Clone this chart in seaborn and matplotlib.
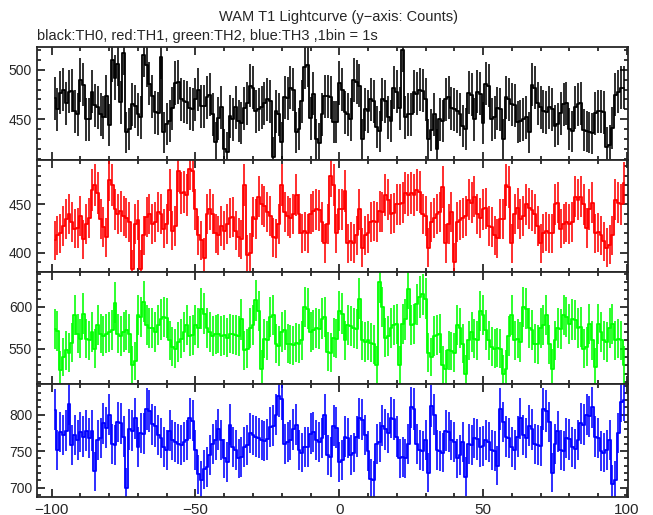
"""
WAM T1 lightcurve, four energy bands stacked (TH0..TH3), 1 s bins.
"""

import numpy as np
import pandas as pd
import matplotlib
matplotlib.use("Agg")
import matplotlib.pyplot as plt
from matplotlib.ticker import MultipleLocator
import seaborn as sns

# bin centres, seconds
TIME = np.arange(-99, 100)

TH0 = [
    471, 460, 477, 480, 466, 478, 479, 458, 455, 490,
    485, 450, 450, 478, 464, 462, 455, 452, 473, 444,
    510, 492, 506, 467, 517, 437, 440, 465, 463, 455,
    452, 515, 505, 486, 473, 457, 456, 513, 437, 445,
    448, 461, 487, 488, 470, 468, 467, 461, 460, 470,
    480, 463, 463, 472, 475, 455, 427, 451,
    462, 420, 417, 453, 450, 462, 448, 446, 461, 466,
    484, 482, 458, 460, 462, 466, 470, 468, 412, 458,
    455, 427, 472, 471, 482, 480, 437, 440, 468, 503,
    505, 451, 476, 430, 426, 455, 473, 473, 472, 447,
    447, 487, 480, 457, 455, 450, 490, 488, 484, 430,
    460, 458, 470, 468, 442, 438, 470, 468, 452, 448,
    482, 478, 461, 520, 452, 455, 455, 478, 476, 480,
    479, 470,
    430, 439, 455, 420, 450, 448, 470, 472, 461, 460,
    458, 455, 443, 440, 477, 475, 450, 478, 476, 446,
    486, 484, 450, 452, 461, 460, 430, 472, 470, 465,
    464, 447, 448, 450, 452, 437, 485, 482, 466, 462,
    458, 457, 462, 460, 443, 445, 456, 465, 466, 440,
    438, 462, 465, 466, 439, 438, 437, 436, 456, 458,
    458, 457, 422, 424, 441, 475, 478, 482, 482,
]

TH1 = [
    413, 418, 420, 428, 435, 440, 432, 425, 426, 438,
    414, 430, 436, 465, 470, 462, 435, 427, 416, 475,
    470, 445, 440, 443, 438, 436, 432, 383, 430, 434,
    383, 418, 437, 440, 430, 432, 442, 440, 425, 430,
    465, 423, 428, 485, 462, 463, 460, 487, 485, 445,
    418, 413, 395, 440, 445, 440, 420, 418,
    428, 423, 430, 436, 437, 423, 416, 414, 470, 398,
    400, 437, 435, 458, 450, 448, 442, 438, 416, 415,
    430, 470, 442, 438, 436, 440, 460, 440, 420, 422,
    420, 440, 443, 445, 444, 432, 410, 430, 480, 470,
    420, 445, 445, 464, 410, 412, 410, 418, 445, 405,
    418, 420, 432, 433, 432, 443, 442, 460, 455, 440,
    441, 450, 450, 452, 462, 460, 462, 460, 465, 463,
    440, 438,
    405, 432, 436, 440, 442, 468, 410, 430, 442, 390,
    432, 434, 436, 438, 455, 452, 458, 440, 436, 445,
    446, 428, 427, 418, 415, 435, 435, 470, 468, 410,
    440, 446, 435, 438, 450, 446, 444, 440, 428, 410,
    420, 422, 420, 420, 450, 452, 425, 430, 432, 430,
    432, 458, 455, 458, 450, 426, 445, 452, 420, 421,
    418, 412, 405, 408, 418, 455, 452, 450, 472,
]

TH2 = [
    573, 571, 524, 540, 548, 545, 557, 590, 568, 562,
    592, 562, 560, 570, 550, 578, 568, 565, 568, 570,
    572, 605, 568, 565, 570, 572, 568, 530, 535, 590,
    588, 606, 578, 575, 575, 570, 578, 585, 588, 587,
    560, 552, 550, 558, 562, 570, 578, 565, 566, 578,
    575, 598, 592, 575, 570, 565, 567, 568,
    565, 566, 563, 568, 567, 566, 565, 585, 548, 550,
    575, 578, 608, 595, 525, 562, 560, 588, 590, 556,
    553, 570, 572, 556, 555, 554, 557, 556, 560, 600,
    598, 570, 572, 575, 574, 586, 588, 546, 545, 563,
    562, 595, 592, 560, 578, 577, 575, 573, 610, 560,
    558, 560, 557, 555, 530, 630, 600, 563, 565, 575,
    578, 580, 530, 580, 585, 622, 578, 580, 603, 612,
    615, 610,
    545, 540, 565, 566, 568, 530, 525, 548, 547, 545,
    578, 575, 556, 520, 560, 570, 562, 560, 595, 590,
    572, 560, 552, 550, 551, 550, 520, 525, 565, 590,
    560, 562, 558, 600, 598, 575, 572, 556, 555, 575,
    578, 590, 555, 526, 560, 575, 574, 590, 588, 580,
    585, 584, 575, 576, 550, 552, 580, 560, 528, 580,
    570, 560, 558, 575, 580, 560, 562, 560, 530,
]

TH3 = [
    807, 752, 776, 772, 778, 815, 758, 772, 765, 776,
    770, 778, 768, 778, 722, 765, 768, 788, 782, 800,
    760, 758, 790, 788, 770, 700, 780, 778, 795, 756,
    775, 774, 808, 805, 787, 784, 772, 768, 755, 752,
    778, 765, 762, 760, 758, 762, 765, 795, 792, 752,
    718, 710, 725, 728, 745, 760, 765, 780,
    765, 740, 735, 786, 755, 752, 740, 742, 755, 758,
    775, 772, 770, 768, 765, 764, 766, 783, 785, 800,
    825, 822, 760, 762, 765, 780, 786, 752, 748, 755,
    756, 774, 776, 765, 762, 768, 800, 745, 742, 785,
    782, 735, 738, 770, 768, 745, 748, 770, 795, 793,
    772, 750, 712, 710, 760, 762, 785, 780, 775, 796,
    794, 770, 740, 742, 740, 760, 810, 808, 760, 752,
    750, 765,
    720, 812, 800, 752, 750, 748, 778, 776, 765, 762,
    740, 745, 762, 715, 760, 758, 768, 766, 755, 757,
    765, 763, 752, 750, 730, 808, 790, 770, 768, 755,
    752, 770, 795, 772, 768, 785, 780, 760, 758, 757,
    808, 805, 790, 720, 760, 777, 752, 750, 768, 766,
    755, 753, 765, 788, 786, 800, 798, 810, 770, 768,
    750, 748, 752, 765, 705, 710, 775, 818, 820,
]

BANDS  = [TH0, TH1, TH2, TH3]
COLORS = ["black", "#ff0000", "#00ff00", "#0000ff"]
YLIMS  = [(409.7, 522.7), (380.0, 496.6), (506.8, 642.0), (687.0, 841.5)]
XLIM   = (-105.1, 100.4)
XTICKS = [-100, -50, 0, 50, 100]


def draw_band(ax, counts, color, ylim):
    counts = np.asarray(counts, dtype=float)
    err    = np.sqrt(counts)          # poisson errors
    df     = pd.DataFrame({"time": TIME, "counts": counts})

    ax.vlines(df["time"], counts - err, counts + err,
              color=color, linewidth=1.15)
    sns.lineplot(data=df, x="time", y="counts", ax=ax, color=color,
                 drawstyle="steps-mid", linewidth=1.3, legend=False)

    ax.set_xlim(*XLIM)
    ax.set_ylim(*ylim)
    ax.set_xlabel("")
    ax.set_ylabel("")
    ax.xaxis.set_major_locator(MultipleLocator(50))
    ax.xaxis.set_minor_locator(MultipleLocator(10))
    ax.yaxis.set_major_locator(MultipleLocator(50))
    ax.yaxis.set_minor_locator(MultipleLocator(10))
    ax.tick_params(which="both", direction="in", top=True, right=True,
                   width=1.3, labelsize=10)
    ax.tick_params(which="major", length=6)
    ax.tick_params(which="minor", length=3)
    for s in ax.spines.values():
        s.set_linewidth(1.3)


def main():
    sns.set_style("ticks")
    plt.rcParams["font.family"] = ["Liberation Sans", "DejaVu Sans"]

    fig, axes = plt.subplots(4, 1, figsize=(6.53, 5.15), dpi=100, sharex=True)
    fig.subplots_adjust(left=0.0567, right=0.9617, top=0.9087, bottom=0.035,
                        hspace=0)

    for ax, band, col, yl in zip(axes, BANDS, COLORS, YLIMS):
        draw_band(ax, band, col, yl)

    axes[-1].set_xticks(XTICKS)
    axes[-1].tick_params(axis="x", labelsize=11, pad=4)
    for ax in axes[:-1]:
        ax.tick_params(axis="x", labelbottom=False)

    fig.text(0.519, 0.967, "WAM T1 Lightcurve (y\u2212axis: Counts)",
             ha="center", va="center", fontsize=10.5)
    fig.text(0.0567, 0.930,
             "black:TH0, red:TH1, green:TH2, blue:TH3 ,1bin = 1s",
             ha="left", va="center", fontsize=10.5)

    fig.savefig("out.png", dpi=100)
    plt.close(fig)


if __name__ == "__main__":
    main()
